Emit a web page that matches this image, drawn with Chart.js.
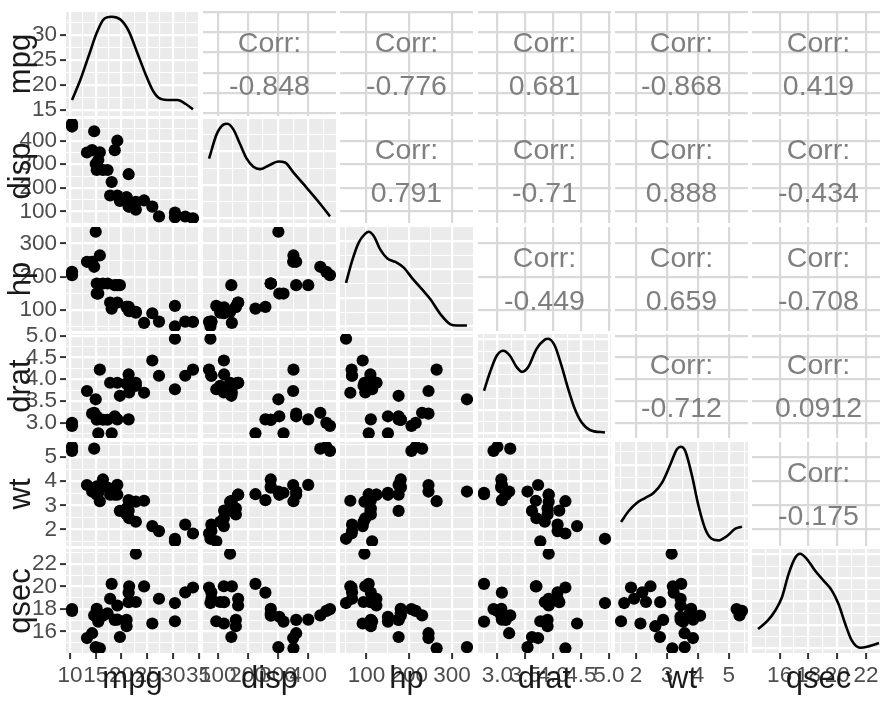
<!DOCTYPE html>
<html>
<head>
<meta charset="utf-8">
<script src="https://cdn.jsdelivr.net/npm/chart.js@4.4.1/dist/chart.umd.min.js"></script>
<style>
  body { margin: 0; background: #fff; width: 880px; height: 702px; overflow: hidden; position: relative;
         font-family: "Liberation Sans", Arial, sans-serif; }
  canvas { position: absolute; }
  .corr { position: absolute; color: #7f7f7f; font-size: 28.5px; line-height: 43px; text-align: center; white-space: nowrap; }
  .strip { position: absolute; color: #1a1a1a; font-size: 31px; line-height: 30px; height: 30px; text-align: center; white-space: nowrap; }
</style>
</head>
<body>
<script>
// mtcars columns
const mpg  = [21.0,21.0,22.8,21.4,18.7,18.1,14.3,24.4,22.8,19.2,17.8,16.4,17.3,15.2,10.4,10.4,14.7,32.4,30.4,33.9,21.5,15.5,15.2,13.3,19.2,27.3,26.0,30.4,15.8,19.7,15.0,21.4];
const disp = [160,160,108,258,360,225,360,146.7,140.8,167.6,167.6,275.8,275.8,275.8,472,460,440,78.7,75.7,71.1,120.1,318,304,350,400,79,120.3,95.1,351,145,301,121];
const hp   = [110,110,93,110,175,105,245,62,95,123,123,180,180,180,205,215,230,66,52,65,97,150,150,245,175,66,91,113,264,175,335,109];
const drat = [3.90,3.90,3.85,3.08,3.15,2.76,3.21,3.69,3.92,3.92,3.92,3.07,3.07,3.07,2.93,3.00,3.23,4.08,4.93,4.22,3.70,2.76,3.15,3.73,3.08,4.08,4.43,3.77,4.22,3.62,3.54,4.11];
const wt   = [2.620,2.875,2.320,3.215,3.440,3.460,3.570,3.190,3.150,3.440,3.440,4.070,3.730,3.780,5.250,5.424,5.345,2.200,1.615,1.835,2.465,3.520,3.435,3.840,3.845,1.935,2.140,1.513,3.170,2.770,3.570,2.780];
const qsec = [16.46,17.02,18.61,19.44,17.02,20.22,15.84,20.00,22.90,18.30,18.90,17.40,17.60,18.00,17.98,17.82,17.42,19.47,18.52,19.90,20.01,16.87,17.30,15.41,17.05,18.90,16.70,16.90,14.50,15.50,14.60,18.60];

// axis breaks and labels
const mpgBreaks  = [10,15,20,25,30,35];      const mpgLabels  = ['10','15','20','25','30','35'];
const dispBreaks = [100,200,300,400];        const dispLabels = ['100','200','300','400'];
const hpBreaks   = [100,200,300];            const hpLabels   = ['100','200','300'];
const dratBreaks = [3.0,3.5,4.0,4.5,5.0];    const dratLabels = ['3.0','3.5','4.0','4.5','5.0'];
const wtBreaks   = [2,3,4,5];                const wtLabels   = ['2','3','4','5'];
const qsecBreaks = [16,18,20,22];            const qsecLabels = ['16','18','20','22'];
// labels shown on the top-left density panel
const mpgDiagBreaks = [15,20,25,30];         const mpgDiagLabels = ['15','20','25','30'];

// density curves read from the diagonal (relative height, peak = 1)
const mpgDensX  = [10.4,12.0,13.6,15.2,16.5,18.1,19.8,21.4,23.0,24.7,26.0,27.3,28.9,30.9,32.5,33.9];
const mpgDensY  = [0.12,0.33,0.58,0.83,0.97,1.0,0.97,0.85,0.63,0.39,0.23,0.14,0.12,0.12,0.077,0.02];
const dispDensX = [71.1,96.5,118.5,131.8,151.7,173.9,196,218,240,267.6,300.8,323,350.6,383.8,417,444.7,472];
const dispDensY = [0.63,0.89,0.99,1.0,0.94,0.785,0.63,0.545,0.52,0.556,0.60,0.59,0.486,0.363,0.24,0.133,0.02];
const hpDensX   = [52,66,81.6,97.1,105,116.8,132.3,148,167.5,187,206.6,230,249.5,273,296.4,312,335];
const hpDensY   = [0.46,0.69,0.885,0.98,1.0,0.955,0.81,0.72,0.68,0.62,0.51,0.39,0.285,0.127,0.02,0.008,0.008];
const dratDensX = [2.76,2.867,2.987,3.105,3.225,3.345,3.446,3.553,3.70,3.85,3.91,4.03,4.15,4.27,4.39,4.51,4.66,4.93];
const dratDensY = [0.45,0.645,0.82,0.873,0.82,0.70,0.65,0.70,0.89,0.99,1.0,0.926,0.715,0.47,0.257,0.116,0.035,0.008];
const wtDensX   = [1.513,1.76,2.03,2.30,2.57,2.84,3.11,3.32,3.45,3.59,3.81,4.02,4.24,4.45,4.67,4.94,5.21,5.424];
const wtDensY   = [0.204,0.32,0.408,0.46,0.514,0.62,0.814,0.973,1.0,0.955,0.69,0.373,0.127,0.025,0.01,0.056,0.133,0.154];
const qsecDensX = [14.5,15.15,15.7,16.16,16.62,17.09,17.42,17.89,18.47,19.05,19.63,20.09,20.56,21.02,21.6,22.18,22.9];
const qsecDensY = [0.204,0.29,0.40,0.54,0.785,0.96,1.0,0.944,0.82,0.715,0.61,0.468,0.257,0.08,0.005,0.02,0.055];

// correlation text, upper triangle, row by row
const corrRows = [
  ['-0.848','-0.776','0.681','-0.868','0.419'],
  ['0.791','-0.71','0.888','-0.434'],
  ['-0.449','0.659','-0.708'],
  ['-0.712','0.0912'],
  ['-0.175']
];

const FONT = '"Liberation Sans", Arial, sans-serif';
const COL0 = 66, COLSTEP = 137.2, PW = 133;
const ROW0 = 12, ROWSTEP = 107.4, PH = 104;
const PAD = 24;
const diagGridStep = [null, 0.177, 0.15, 0.124, 0.135, 0.124];

function makeVar(name, data, breaks, labels, densX, densY) {
  const lo = Math.min(...data), hi = Math.max(...data), ex = (hi - lo) * 0.05;
  return { name, data, breaks, labels, densX, densY, min: lo - ex, max: hi + ex };
}
const vars = [
  makeVar('mpg', mpg, mpgBreaks, mpgLabels, mpgDensX, mpgDensY),
  makeVar('disp', disp, dispBreaks, dispLabels, dispDensX, dispDensY),
  makeVar('hp', hp, hpBreaks, hpLabels, hpDensX, hpDensY),
  makeVar('drat', drat, dratBreaks, dratLabels, dratDensX, dratDensY),
  makeVar('wt', wt, wtBreaks, wtLabels, wtDensX, wtDensY),
  makeVar('qsec', qsec, qsecBreaks, qsecLabels, qsecDensX, qsecDensY)
];

// major breaks plus halfway minor breaks inside [min, max]
function tickList(breaks, min, max) {
  const step = breaks[1] - breaks[0];
  const out = breaks.filter(b => b >= min && b <= max).map(b => ({ value: b, mn: false }));
  for (let k = -1; k < breaks.length; k++) {
    const v = breaks[0] + (k + 0.5) * step;
    if (v >= min && v <= max) out.push({ value: v, mn: true });
  }
  return out.sort((a, b) => a.value - b.value);
}

function stepTicks(step, max) {
  const out = [];
  for (let k = 0; k * step <= max; k++) out.push({ value: k * step, mn: k % 2 === 1 });
  return out;
}

function axis(opts) {
  const horiz = opts.pos === 'bottom';
  return {
    type: 'linear', position: opts.pos, min: opts.min, max: opts.max,
    afterBuildTicks: s => { s.ticks = opts.ticks.map(t => ({ value: t.value, mn: t.mn })); },
    afterFit: s => { if (horiz) s.height = opts.size; else s.width = opts.size; },
    border: { display: false },
    ticks: {
      display: opts.show, autoSkip: false, maxRotation: 0, minRotation: 0, padding: 3,
      color: '#4d4d4d', font: { family: FONT, size: 22.5 },
      callback: (val, i, ts) => {
        if (ts[i].mn) return '';
        const j = opts.breaks.indexOf(val);
        return j >= 0 ? opts.labels[j] : '';
      }
    },
    grid: {
      color: c => opts.upper ? (c.tick && c.tick.mn ? 'rgba(0,0,0,0)' : '#d9d9d9') : '#ffffff',
      lineWidth: c => (c.tick && c.tick.mn ? 1.1 : 2.2),
      drawTicks: opts.show, tickLength: 6, tickWidth: 2,
      tickColor: c => (c.tick && c.tick.mn ? 'rgba(0,0,0,0)' : '#333333')
    }
  };
}

function panelBg(color) {
  return {
    id: 'panelBg',
    beforeDraw(chart) {
      const a = chart.chartArea, ctx = chart.ctx;
      ctx.save(); ctx.fillStyle = color;
      ctx.fillRect(a.left, a.top, a.right - a.left, a.bottom - a.top);
      ctx.restore();
    }
  };
}

function panel(r, c) {
  const vx = vars[c], vy = vars[r];
  const left = Math.round(COL0 + c * COLSTEP), top = Math.round(ROW0 + r * ROWSTEP);
  const axisW = c === 0 ? left : 0;
  const axisH = r === 5 ? 50 : 0;
  const cv = document.createElement('canvas');
  cv.width = PW + axisW + 2 * PAD; cv.height = PH + axisH + 2 * PAD;
  cv.style.left = (left - axisW - PAD) + 'px'; cv.style.top = (top - PAD) + 'px';
  document.body.appendChild(cv);

  const kind = r === c ? 'diag' : (r > c ? 'lower' : 'upper');
  const upper = kind === 'upper';
  const scales = {
    x: axis({ pos: 'bottom', min: vx.min, max: vx.max, ticks: tickList(vx.breaks, vx.min, vx.max),
              breaks: vx.breaks, labels: vx.labels, show: r === 5, size: axisH, upper })
  };
  const datasets = [];

  if (kind === 'diag') {
    if (r === 0) {
      scales.y = { type: 'linear', display: false, min: -0.05, max: 1.05 };
      scales.yl = axis({ pos: 'left', min: 13.8, max: 34.6, ticks: tickList(mpgDiagBreaks, 13.8, 34.6),
                         breaks: mpgDiagBreaks, labels: mpgDiagLabels, show: true, size: axisW });
    } else {
      scales.y = axis({ pos: 'left', min: -0.05, max: 1.05, ticks: stepTicks(diagGridStep[r], 1.05),
                        breaks: [], labels: [], show: c === 0, size: axisW });
    }
    datasets.push({
      type: 'line', yAxisID: 'y',
      data: vx.densX.map((x, i) => ({ x, y: vx.densY[i] })),
      borderColor: '#000000', borderWidth: 2.6, pointRadius: 0, fill: false,
      cubicInterpolationMode: 'monotone'
    });
  } else {
    scales.y = axis({ pos: 'left', min: vy.min, max: vy.max, ticks: tickList(vy.breaks, vy.min, vy.max),
                      breaks: vy.breaks, labels: vy.labels, show: c === 0, size: axisW, upper });
    if (kind === 'lower') {
      datasets.push({
        data: vx.data.map((x, i) => ({ x, y: vy.data[i] })),
        pointRadius: 6.1, pointBackgroundColor: '#000000', pointBorderWidth: 0, showLine: false
      });
    }
  }

  new Chart(cv, {
    type: 'scatter',
    data: { datasets },
    options: {
      responsive: false, animation: false, devicePixelRatio: 1,
      layout: { padding: PAD },
      plugins: { legend: { display: false }, tooltip: { enabled: false } },
      scales
    },
    plugins: [panelBg(upper ? '#ffffff' : '#ebebeb')]
  });

  if (upper) {
    const d = document.createElement('div');
    d.className = 'corr';
    d.style.left = left + 'px'; d.style.width = PW + 'px'; d.style.top = (top + 9) + 'px';
    d.innerHTML = 'Corr:<br>' + corrRows[r][c - r - 1];
    document.body.appendChild(d);
  }
}

for (let r = 0; r < 6; r++) for (let c = 0; c < 6; c++) panel(r, c);

// strip labels, bottom and left
vars.forEach((v, k) => {
  const left = Math.round(COL0 + k * COLSTEP);
  const b = document.createElement('div');
  b.className = 'strip'; b.textContent = v.name;
  b.style.left = left + 'px'; b.style.width = PW + 'px'; b.style.top = '663px';
  document.body.appendChild(b);

  const mid = Math.round(ROW0 + k * ROWSTEP) + PH / 2;
  const s = document.createElement('div');
  s.className = 'strip'; s.textContent = v.name;
  s.style.width = PH + 'px'; s.style.left = (19.6 - PH / 2) + 'px'; s.style.top = (mid - 15) + 'px';
  s.style.transform = 'rotate(-90deg)';
  document.body.appendChild(s);
});
</script>
</body>
</html>
